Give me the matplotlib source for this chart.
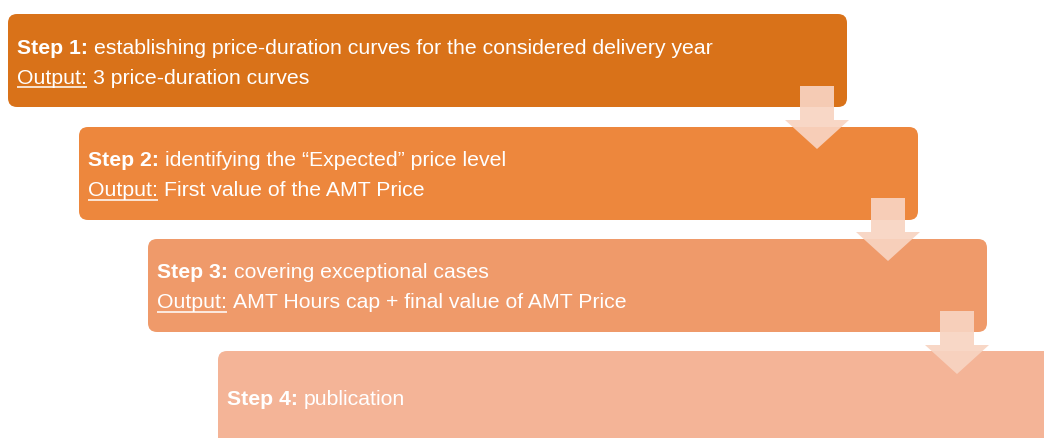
import matplotlib
matplotlib.use("Agg")
import matplotlib.pyplot as plt
from matplotlib.patches import FancyBboxPatch, Polygon

plt.rcParams['font.family'] = ['Liberation Sans', 'DejaVu Sans']

# Content of the process steps
step_labels = ["Step 1:", "Step 2:", "Step 3:", "Step 4:"]
step_texts = [
    "establishing price-duration curves for the considered delivery year",
    "identifying the \u201cExpected\u201d price level",
    "covering exceptional cases",
    "publication",
]
output_texts = [
    "3 price-duration curves",
    "First value of the AMT Price",
    "AMT Hours cap + final value of AMT Price",
    None,
]
box_colors = ["#D97219", "#ED873D", "#EF9A6A", "#F4B497"]
arrow_color = "#F8D4C2"

W, H = 1044, 439
fig = plt.figure(figsize=(W / 100, H / 100), dpi=100)
ax = fig.add_axes([0, 0, 1, 1])
ax.set_xlim(0, W)
ax.set_ylim(H, 0)
ax.axis("off")

# box geometry (pixels)
box_left = [8, 79, 148, 218]
box_top = [15, 128, 240, 352]
box_w = 839
box_h = 93
fs = 15.35

renderer = fig.canvas.get_renderer()


def px_width(t):
    bb = t.get_window_extent(renderer=renderer)
    return bb.width


for i in range(4):
    x0, y0 = box_left[i], box_top[i]
    w = box_w if i < 3 else 1000
    h = box_h if i < 3 else 200
    box = FancyBboxPatch((x0, y0), w, h,
                         boxstyle="round,pad=0,rounding_size=9",
                         fc=box_colors[i], ec="none", zorder=1)
    ax.add_patch(box)

    tx = x0 + 9
    if output_texts[i] is None:
        lines_y = [y0 + 48]
    else:
        lines_y = [y0 + 33, y0 + 63]

    t = ax.text(tx, lines_y[0], step_labels[i], fontsize=fs, fontweight="bold",
                color="white", va="center", ha="left", zorder=5)
    dx = px_width(t)
    ax.text(tx + dx + 6, lines_y[0], step_texts[i], fontsize=fs,
            color="white", va="center", ha="left", zorder=5)

    if output_texts[i] is not None:
        t2 = ax.text(tx, lines_y[1], "Output:", fontsize=fs, color="white",
                     va="center", ha="left", zorder=5)
        dx2 = px_width(t2)
        ax.plot([tx, tx + dx2], [lines_y[1] + 10, lines_y[1] + 10],
                color="white", lw=1.1, zorder=5, solid_capstyle="butt")
        ax.text(tx + dx2 + 6, lines_y[1], output_texts[i], fontsize=fs,
                color="white", va="center", ha="left", zorder=5)

# down arrows between the steps
arrow_cx = [817, 888, 957]
arrow_top = [87, 199, 312]
for i in range(3):
    cx, top = arrow_cx[i], arrow_top[i]
    sw, hw = 17, 32
    neck, tip = top + 34, top + 63
    pts = [(cx - sw, top), (cx + sw, top), (cx + sw, neck), (cx + hw, neck),
           (cx, tip), (cx - hw, neck), (cx - sw, neck)]
    ax.add_patch(Polygon(pts, closed=True, fc=arrow_color, ec="none",
                         alpha=0.92, zorder=3))

fig.savefig("out.png", dpi=100)
